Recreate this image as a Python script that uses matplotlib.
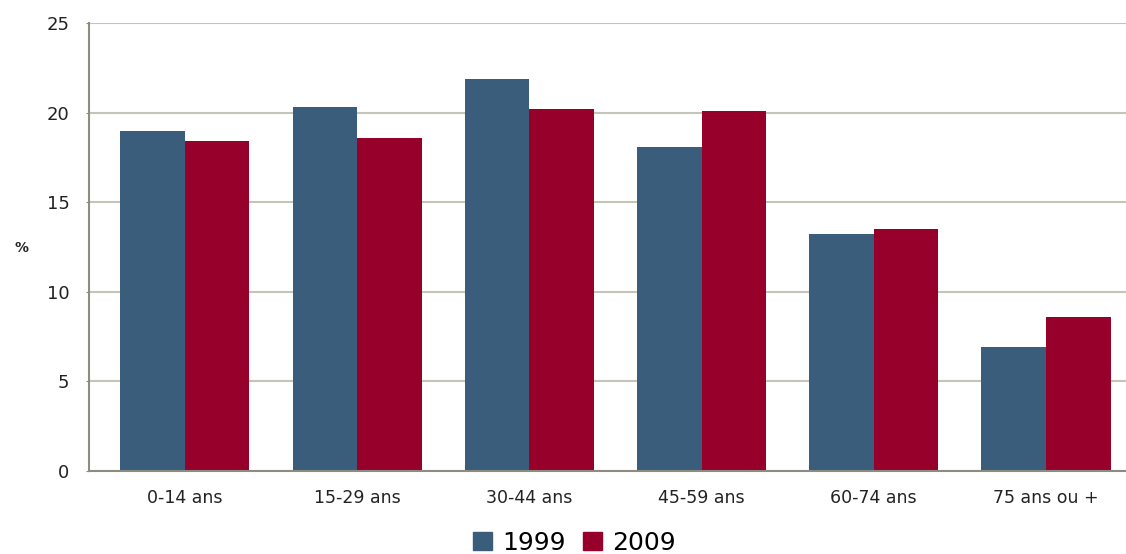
import numpy as np
import matplotlib
matplotlib.use("Agg")
import matplotlib.pyplot as plt
from matplotlib.patches import Patch

# data
categories = ["0-14 ans", "15-29 ans", "30-44 ans", "45-59 ans", "60-74 ans", "75 ans ou +"]
vals_1999 = [19.0, 20.3, 21.9, 18.1, 13.2, 6.9]
vals_2009 = [18.4, 18.6, 20.2, 20.1, 13.5, 8.6]
series_names = ["1999", "2009"]
yticks = [0, 5, 10, 15, 20, 25]

blue = "#3b5d7c"
red = "#96002a"
grid_col = "#c4c4b8"
axis_col = "#8c8c80"

fig = plt.figure(figsize=(11.26, 5.54), dpi=100)
ax = fig.add_axes([0.079, 0.1498, 0.921, 0.8087])

x = np.arange(len(categories))
w = 0.375
ax.bar(x - w / 2, vals_1999, w, color=blue, zorder=3)
ax.bar(x + w / 2, vals_2009, w, color=red, zorder=3)

ax.set_xlim(-0.557, 5.465)
ax.set_ylim(0, 25)
ax.set_yticks(yticks)
ax.set_xticks(x)
ax.set_xticklabels(categories)
ax.grid(axis="y", color=grid_col, linewidth=1.5, zorder=0)

for s in ["top", "right"]:
    ax.spines[s].set_visible(False)
for s in ["left", "bottom"]:
    ax.spines[s].set_color(axis_col)
    ax.spines[s].set_linewidth(1.5)
    ax.spines[s].set_zorder(4)

ax.tick_params(axis="y", length=2, color=axis_col, pad=12, labelsize=13, labelcolor="#222222")
ax.tick_params(axis="x", length=0, pad=13, labelsize=12.5, labelcolor="#222222")

fig.text(0.013, 0.553, "%", fontsize=10, fontweight="bold", color="#222222", va="center")

handles = [Patch(color=blue), Patch(color=red)]
fig.legend(handles, series_names, loc="center", bbox_to_anchor=(0.51, 0.02),
           ncol=2, frameon=False, fontsize=18, handlelength=0.75, handleheight=0.75,
           handletextpad=0.4, columnspacing=0.7, borderaxespad=0)

fig.savefig("out.png", dpi=100)
